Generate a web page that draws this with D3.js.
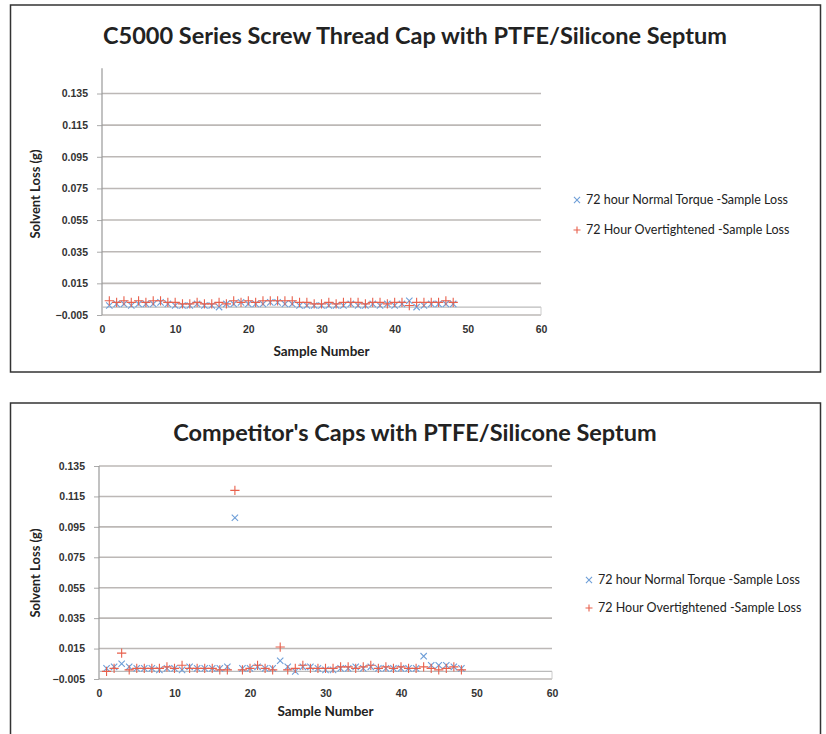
<!DOCTYPE html>
<html>
<head>
<meta charset="utf-8">
<script src="https://cdn.jsdelivr.net/npm/d3@7"></script>
<style>
  body { margin: 0; background: #fff; }
  svg { font-family: Lato, "Open Sans", sans-serif; }
  .tick text { fill: #333; font-weight: bold; }
</style>
</head>
<body>
<div id="chart"></div>
<script>
// sample numbers 1..48
var samples = [1,2,3,4,5,6,7,8,9,10,11,12,13,14,15,16,17,18,19,20,21,22,23,24,
               25,26,27,28,29,30,31,32,33,34,35,36,37,38,39,40,41,42,43,44,45,46,47,48];

// C5000 caps (g)
var c5000Normal = [0.001,0.002,0.002,0.001,0.002,0.002,0.002,0.003,0.002,0.001,0.001,0.001,
                   0.002,0.001,0.001,0.000,0.002,0.002,0.003,0.002,0.002,0.002,0.003,0.003,
                   0.002,0.002,0.001,0.001,0.001,0.001,0.001,0.001,0.001,0.002,0.001,0.001,
                   0.002,0.001,0.002,0.001,0.002,0.004,0.000,0.001,0.002,0.002,0.002,0.002];
var c5000Over   = [0.004,0.003,0.004,0.003,0.004,0.003,0.004,0.004,0.003,0.003,0.002,0.002,
                   0.003,0.002,0.002,0.003,0.002,0.004,0.003,0.004,0.003,0.004,0.004,0.004,
                   0.004,0.004,0.003,0.003,0.002,0.002,0.003,0.002,0.003,0.003,0.003,0.002,
                   0.003,0.003,0.002,0.003,0.003,0.001,0.003,0.003,0.003,0.003,0.004,0.003];

// competitor caps (g)
var compNormal  = [0.002,0.003,0.005,0.003,0.002,0.002,0.002,0.001,0.002,0.002,0.001,0.003,
                   0.002,0.002,0.002,0.002,0.003,0.101,0.002,0.002,0.003,0.002,0.002,0.007,
                   0.003,0.000,0.003,0.003,0.002,0.001,0.001,0.002,0.002,0.003,0.002,0.003,
                   0.002,0.002,0.002,0.002,0.002,0.002,0.010,0.004,0.004,0.004,0.003,0.002];
var compOver    = [0.000,0.002,0.012,0.001,0.002,0.002,0.002,0.002,0.003,0.002,0.004,0.002,
                   0.002,0.002,0.002,0.001,0.001,0.119,0.001,0.002,0.004,0.002,0.001,0.016,
                   0.001,0.002,0.004,0.002,0.002,0.002,0.002,0.003,0.003,0.002,0.003,0.004,
                   0.002,0.003,0.002,0.003,0.002,0.002,0.003,0.002,0.001,0.002,0.003,0.001];

var yTicks = [-0.005,0.015,0.035,0.055,0.075,0.095,0.115,0.135];
var xTicks = [0,10,20,30,40,50,60];
var seriesNames = ["72 hour Normal Torque -Sample Loss", "72 Hour Overtightened -Sample Loss"];
var seriesColors = ["#6f9fd8", "#e8604c"];

var svg = d3.select("#chart").append("svg")
    .attr("width", 826)
    .attr("height", 734);

function drawPanel(p) {
    var g = svg.append("g");

    // frame
    g.append("rect")
        .attr("x", 10.5).attr("y", p.top)
        .attr("width", 810).attr("height", p.frameH)
        .attr("fill", "#fff")
        .attr("stroke", "#333")
        .attr("stroke-width", 1.5);

    g.append("text")
        .attr("x", 415).attr("y", p.titleY)
        .attr("text-anchor", "middle")
        .attr("font-size", 23.5)
        .attr("font-weight", "bold")
        .attr("fill", "#222")
        .text(p.title);

    var x = d3.scaleLinear().domain([0, 60]).range([p.x0, p.x1]);
    var y = d3.scaleLinear().domain([-0.005, 0.135]).range([p.yBot, p.yTop]);

    // gridlines
    g.append("g")
        .selectAll("line").data(yTicks).enter().append("line")
        .attr("x1", p.x0).attr("x2", p.x1)
        .attr("y1", function(d){return y(d);}).attr("y2", function(d){return y(d);})
        .attr("stroke", "#bcb8b6")
        .attr("stroke-width", 1.6);

    // y axis
    var yAxis = d3.axisLeft(y).tickValues(yTicks).tickSize(5).tickPadding(9)
        .tickFormat(d3.format(".3f"));
    var ya = g.append("g")
        .attr("transform", "translate(" + p.x0 + ",0)")
        .call(yAxis);
    ya.select(".domain").remove();
    ya.selectAll(".tick line").attr("stroke", "#aaa");
    ya.selectAll("text").attr("font-size", 10.5);
    g.append("line")
        .attr("x1", p.x0).attr("x2", p.x0)
        .attr("y1", y(p.yMax)).attr("y2", y(-0.005))
        .attr("stroke", "#999").attr("stroke-width", 1.2);

    // x axis line crosses at 0
    g.append("line")
        .attr("x1", p.x0).attr("x2", p.x1)
        .attr("y1", y(0)).attr("y2", y(0))
        .attr("stroke", "#bbb").attr("stroke-width", 1.2);
    g.append("line")
        .attr("x1", p.x1).attr("x2", p.x1)
        .attr("y1", y(0)).attr("y2", y(-0.005))
        .attr("stroke", "#ccc");

    var xAxis = d3.axisBottom(x).tickValues(xTicks).tickSize(0).tickPadding(11);
    var xa = g.append("g")
        .attr("transform", "translate(0," + y(-0.005) + ")")
        .call(xAxis);
    xa.select(".domain").remove();
    xa.selectAll("text").attr("font-size", 10.5);

    g.append("text")
        .attr("x", (p.x0 + p.x1) / 2).attr("y", p.xLabelY)
        .attr("text-anchor", "middle")
        .attr("font-size", 13.5).attr("font-weight", "bold").attr("fill", "#222")
        .text("Sample Number");

    g.append("text")
        .attr("transform", "translate(40," + p.yLabelY + ") rotate(-90)")
        .attr("text-anchor", "middle")
        .attr("font-size", 13).attr("font-weight", "bold").attr("fill", "#222")
        .text("Solvent Loss (g)");

    // markers
    var timesSym = d3.symbol().type(d3.symbolTimes || d3.symbolX).size(28);
    var plusSym = d3.symbol().type(d3.symbolPlus || d3.symbolCross).size(30);

    var normalPts = samples.map(function(s, i){ return {s: s, v: p.normal[i]}; });
    var overPts = samples.map(function(s, i){ return {s: s, v: p.over[i]}; });

    g.append("g").selectAll("path").data(normalPts).enter().append("path")
        .attr("d", timesSym)
        .attr("transform", function(d){ return "translate(" + x(d.s) + "," + y(d.v) + ")"; })
        .attr("fill", "none")
        .attr("stroke", seriesColors[0])
        .attr("stroke-width", 1.1);

    g.append("g").selectAll("path").data(overPts).enter().append("path")
        .attr("d", plusSym)
        .attr("transform", function(d){ return "translate(" + x(d.s) + "," + y(d.v) + ")"; })
        .attr("fill", "none")
        .attr("stroke", seriesColors[1])
        .attr("stroke-width", 1.1);

    // legend
    var lg = g.append("g").attr("transform", "translate(" + p.legendX + "," + p.legendY + ")");
    var items = lg.selectAll("g").data(seriesNames).enter().append("g")
        .attr("transform", function(d, i){ return "translate(0," + i * p.legendGap + ")"; });
    items.append("path")
        .attr("d", function(d, i){
            return d3.symbol().type(i == 0 ? (d3.symbolTimes || d3.symbolX) : (d3.symbolPlus || d3.symbolCross)).size(i == 0 ? 26 : 18)();
        })
        .attr("fill", "none")
        .attr("stroke", function(d, i){ return seriesColors[i]; })
        .attr("stroke-width", 1.1);
    items.append("text")
        .attr("x", 9).attr("dy", "0.35em")
        .attr("font-size", 12.5).attr("fill", "#222")
        .text(function(d){ return d; });
}

drawPanel({
    top: 5, frameH: 367, titleY: 44,
    title: "C5000 Series Screw Thread Cap with PTFE/Silicone Septum",
    x0: 102, x1: 541, yTop: 93.5, yBot: 315, yMax: 0.151,
    xLabelY: 356, yLabelY: 194,
    legendX: 577, legendY: 200, legendGap: 30,
    normal: c5000Normal, over: c5000Over
});

drawPanel({
    top: 403, frameH: 340, titleY: 441,
    title: "Competitor's Caps with PTFE/Silicone Septum",
    x0: 99, x1: 552, yTop: 466, yBot: 679, yMax: 0.135,
    xLabelY: 716, yLabelY: 573,
    legendX: 589, legendY: 580, legendGap: 28,
    normal: compNormal, over: compOver
});
</script>
</body>
</html>
